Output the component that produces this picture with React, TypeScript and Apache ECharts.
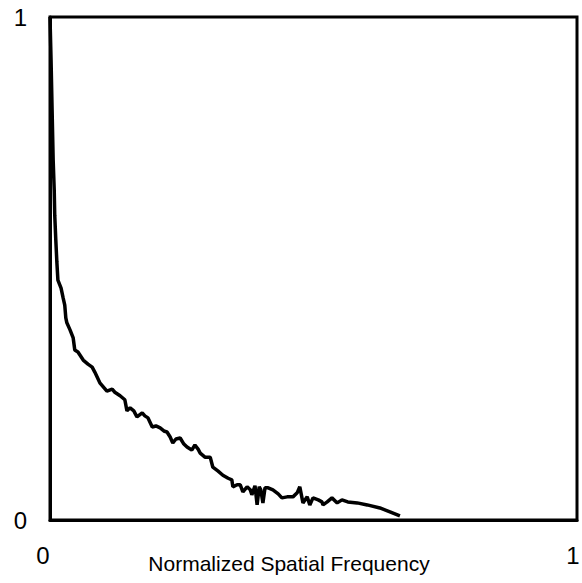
import React, { useEffect, useRef } from "react";
import * as echarts from "echarts";

const freq = [
  0, 0.002, 0.004, 0.006, 0.008, 0.009, 0.011, 0.013, 0.015, 0.021, 0.025, 0.028,
  0.03, 0.032, 0.038, 0.044, 0.047, 0.053, 0.063, 0.072, 0.08, 0.085, 0.095, 0.108,
  0.118, 0.123, 0.133, 0.142, 0.146, 0.152, 0.159, 0.165, 0.175, 0.18, 0.186, 0.194,
  0.201, 0.209, 0.216, 0.222, 0.228, 0.233, 0.239, 0.247, 0.254, 0.26, 0.269, 0.275,
  0.281, 0.285, 0.294, 0.304, 0.309, 0.319, 0.328, 0.338, 0.345, 0.347, 0.355, 0.361,
  0.366, 0.374, 0.38, 0.383, 0.389, 0.393, 0.397, 0.4, 0.404, 0.408, 0.414, 0.423,
  0.433, 0.44, 0.45, 0.461, 0.469, 0.474, 0.48, 0.488, 0.493, 0.499, 0.509, 0.516,
  0.518, 0.526, 0.535, 0.545, 0.554, 0.565, 0.583, 0.602, 0.626, 0.645, 0.664,
];

const response = [
  1.0, 0.915, 0.815, 0.716, 0.656, 0.606, 0.557, 0.513, 0.477, 0.461, 0.441, 0.427,
  0.402, 0.392, 0.378, 0.362, 0.338, 0.334, 0.318, 0.31, 0.304, 0.294, 0.272, 0.256,
  0.26, 0.254, 0.247, 0.239, 0.217, 0.223, 0.217, 0.205, 0.213, 0.207, 0.203, 0.185,
  0.187, 0.183, 0.177, 0.175, 0.165, 0.153, 0.161, 0.163, 0.151, 0.145, 0.139, 0.149,
  0.141, 0.133, 0.125, 0.125, 0.105, 0.097, 0.089, 0.083, 0.08, 0.066, 0.07, 0.07,
  0.056, 0.066, 0.06, 0.05, 0.068, 0.03, 0.066, 0.06, 0.034, 0.064, 0.064, 0.06,
  0.052, 0.044, 0.046, 0.046, 0.054, 0.066, 0.034, 0.046, 0.03, 0.044, 0.04, 0.036,
  0.03, 0.036, 0.044, 0.034, 0.04, 0.036, 0.034, 0.03, 0.024, 0.016, 0.008,
];

const xTicks = ["0", "1"];
const yTicks = ["0", "1"];
const xTitle = "Normalized Spatial Frequency";

export default function App() {
  const ref = useRef<HTMLDivElement>(null);

  useEffect(() => {
    if (!ref.current) return;
    const chart = echarts.init(ref.current, null, { renderer: "svg" });
    const data = freq.map((f, i) => [f, response[i]]);
    const font = "'Liberation Sans', Arial, sans-serif";
    chart.setOption({
      animation: false,
      backgroundColor: "#ffffff",
      grid: {
        left: 50,
        right: 5,
        top: 17,
        bottom: 63,
        outerBoundsMode: "none",
        containLabel: false,
        show: true,
        borderColor: "#000",
        borderWidth: 3,
        backgroundColor: "transparent",
      },
      xAxis: {
        type: "value",
        min: 0,
        max: 1,
        interval: 1,
        name: xTitle,
        nameLocation: "middle",
        nameGap: 33,
        nameMoveOverlap: false,
        nameTextStyle: {
          fontFamily: font,
          fontSize: 21,
          color: "#000",
          padding: [0, 49, 0, 0],
        },
        axisLine: { show: true, lineStyle: { color: "#000", width: 3 } },
        axisTick: { show: false },
        splitLine: { show: false },
        axisLabel: {
          margin: 23,
          fontFamily: font,
          fontSize: 24,
          color: "#000",
          formatter: (v: number) => (v === 0 ? "{a|" + xTicks[0] + "}" : "{b|" + xTicks[1] + "}"),
          rich: {
            a: { fontFamily: font, fontSize: 24, color: "#000", padding: [0, 14, 0, 0] },
            b: { fontFamily: font, fontSize: 24, color: "#000", padding: [0, 8, 0, 0] },
          },
        },
      },
      yAxis: {
        type: "value",
        min: 0,
        max: 1,
        interval: 1,
        axisLine: { show: true, lineStyle: { color: "#000", width: 3 } },
        axisTick: { show: false },
        splitLine: { show: false },
        axisLabel: {
          margin: 23,
          fontFamily: font,
          fontSize: 24,
          color: "#000",
          formatter: (v: number) => (v === 0 ? yTicks[0] : yTicks[1]),
        },
      },
      series: [
        {
          type: "line",
          data,
          showSymbol: false,
          symbol: "none",
          lineStyle: { color: "#000", width: 3.5 },
          smooth: false,
        },
      ],
    });
    return () => chart.dispose();
  }, []);

  return (
    <div
      ref={ref}
      style={{ position: "fixed", left: 0, top: 0, width: 582, height: 583, background: "#fff" }}
    />
  );
}
